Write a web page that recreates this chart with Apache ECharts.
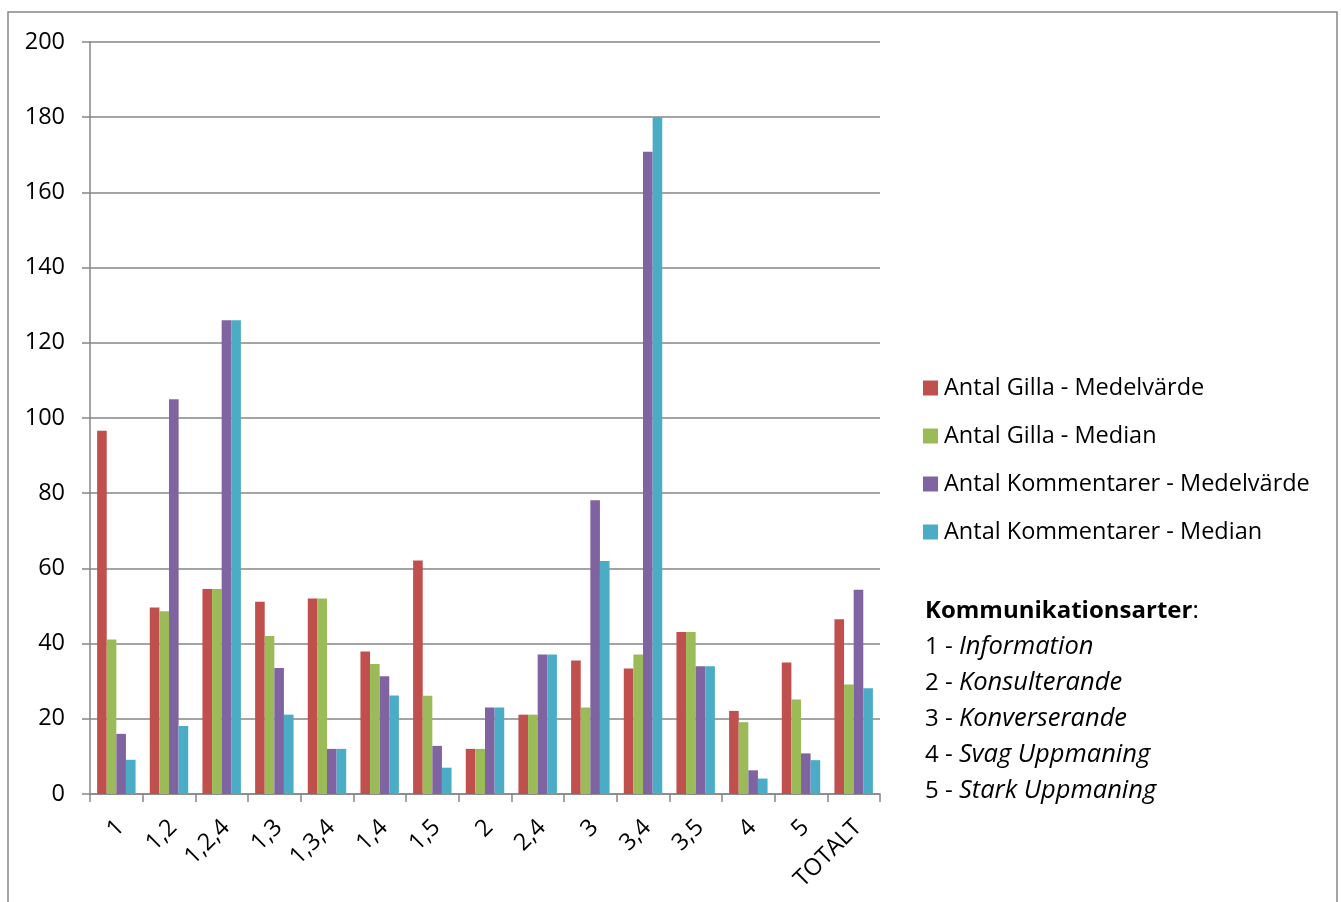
<!DOCTYPE html>
<html>
<head>
<meta charset="utf-8">
<script src="https://cdn.jsdelivr.net/npm/echarts@6/dist/echarts.min.js"></script>
<style>
  html, body { margin: 0; padding: 0; background: #ffffff; }
  #chart { width: 1341px; height: 902px; }
</style>
</head>
<body>
<div id="chart"></div>
<script>
// Kommunikationsart combinations on the x axis
const categories = ['1', '1,2', '1,2,4', '1,3', '1,3,4', '1,4', '1,5', '2', '2,4', '3', '3,4', '3,5', '4', '5', 'TOTALT'];

const gillaMedel = [96.6, 49.6, 54.5, 51.1, 52.0, 37.9, 62.1, 12.0, 21.1, 35.5, 33.4, 43.1, 22.1, 35.0, 46.5];
const gillaMedian = [41.1, 48.6, 54.5, 42.0, 52.0, 34.6, 26.1, 12.0, 21.1, 23.0, 37.1, 43.1, 19.1, 25.1, 29.1];
const kommMedel = [16.0, 105.0, 126.0, 33.5, 12.0, 31.3, 12.8, 23.0, 37.1, 78.1, 170.8, 34.0, 6.3, 10.8, 54.3];
const kommMedian = [9.1, 18.1, 126.0, 21.1, 12.0, 26.2, 7.0, 23.0, 37.1, 62.0, 180.0, 34.0, 4.1, 9.0, 28.1];

const seriesNames = ['Antal Gilla - Medelvärde', 'Antal Gilla - Median', 'Antal Kommentarer - Medelvärde', 'Antal Kommentarer - Median'];
const seriesColors = ['#C0504D', '#9BBB59', '#8064A2', '#4BACC6'];
const seriesData = [gillaMedel, gillaMedian, kommMedel, kommMedian];

// Key to the numbered communication types
const keyTitle = 'Kommunikationsarter';
const keyNumbers = ['1', '2', '3', '4', '5'];
const keyNames = ['Information', 'Konsulterande', 'Konverserande', 'Svag Uppmaning', 'Stark Uppmaning'];

const FONT = '"Open Sans", "Noto Sans", sans-serif';
const GRID_COLOR = '#868686';

const chart = echarts.init(document.getElementById('chart'), null, { renderer: 'canvas' });

const keyElements = [{
  type: 'text',
  x: 925,
  y: 611,
  style: {
    text: '{b|' + keyTitle + '}{r|:}',
    verticalAlign: 'middle',
    rich: {
      b: { fontFamily: FONT, fontSize: 24, fontWeight: 'bold', fill: '#000' },
      r: { fontFamily: FONT, fontSize: 24, fill: '#000' }
    }
  }
}];
keyNumbers.forEach((n, i) => {
  keyElements.push({
    type: 'text',
    x: 925,
    y: 647 + i * 36,
    style: {
      text: '{r|' + n + ' - }{i|' + keyNames[i] + '}',
      verticalAlign: 'middle',
      rich: {
        r: { fontFamily: FONT, fontSize: 24, fill: '#000' },
        i: { fontFamily: FONT, fontSize: 25.5, fontStyle: 'italic', fill: '#000' }
      }
    }
  });
});

chart.setOption({
  animation: false,
  backgroundColor: '#ffffff',
  textStyle: { fontFamily: FONT },
  grid: { left: 90, right: 461, top: 42, bottom: 108, containLabel: false },
  legend: {
    orient: 'vertical',
    left: 923,
    top: 375,
    padding: 0,
    icon: 'rect',
    itemWidth: 15,
    itemHeight: 15,
    itemGap: 22,
    data: seriesNames,
    textStyle: { fontFamily: FONT, fontSize: 23.5, color: '#000', lineHeight: 26, padding: [0, 0, 0, 1] }
  },
  xAxis: {
    type: 'category',
    data: categories,
    boundaryGap: true,
    axisLine: { show: true, lineStyle: { color: GRID_COLOR, width: 1.5 } },
    axisTick: { show: true, length: 8, alignWithLabel: false, lineStyle: { color: GRID_COLOR, width: 1.5 } },
    axisLabel: { rotate: 45, margin: 34, padding: [0, -6, 0, 0], fontSize: 23.5, color: '#000', fontFamily: FONT, interval: 0 }
  },
  yAxis: {
    type: 'value',
    min: 0,
    max: 200,
    interval: 20,
    axisLine: { show: true, lineStyle: { color: GRID_COLOR, width: 1.5 } },
    axisTick: { show: true, length: 8, lineStyle: { color: GRID_COLOR, width: 1.5 } },
    axisLabel: { margin: 25, fontSize: 23.5, color: '#000', fontFamily: FONT },
    splitLine: { show: true, lineStyle: { color: GRID_COLOR, width: 1.5 } }
  },
  series: seriesData.map((d, i) => ({
    name: seriesNames[i],
    type: 'bar',
    data: d,
    barGap: '0%',
    barCategoryGap: '27%',
    itemStyle: { color: seriesColors[i] }
  })),
  graphic: [
    {
      type: 'rect',
      shape: { x: 8, y: 12, width: 1329, height: 900 },
      style: { fill: 'none', stroke: GRID_COLOR, lineWidth: 1.5 },
      silent: true,
      z: -1
    },
    ...keyElements
  ]
});
</script>
</body>
</html>
